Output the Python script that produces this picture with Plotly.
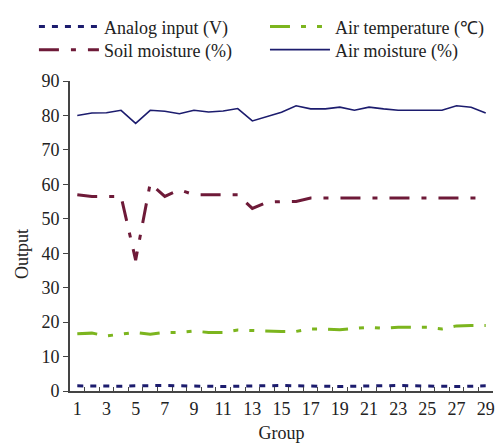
import plotly.graph_objects as go

groups = [str(g) for g in range(1, 30)]
analog_input = [1.5, 1.4, 1.3, 1.4, 1.5, 1.6, 1.6, 1.5, 1.4, 1.4, 1.3, 1.4, 1.5, 1.6, 1.6, 1.5, 1.4, 1.4, 1.3, 1.4, 1.5, 1.6, 1.6, 1.5, 1.4, 1.4, 1.3, 1.4, 1.5]
air_temperature = [16.6, 16.8, 16.0, 16.5, 17.0, 16.5, 17.0, 17.0, 17.4, 17.0, 17.0, 17.7, 17.5, 17.3, 17.3, 17.3, 18.0, 18.0, 17.8, 18.2, 18.5, 18.2, 18.5, 18.5, 18.5, 18.0, 18.9, 19.0, 19.0]
soil_moisture = [57.0, 56.5, 56.5, 56.5, 38.0, 60.3, 56.5, 58.4, 57.0, 57.0, 57.0, 57.0, 53.0, 54.8, 55.0, 55.0, 56.0, 56.0, 56.0, 56.0, 56.0, 56.0, 56.0, 56.0, 56.0, 56.0, 56.0, 56.0, 56.0]
air_moisture = [80.0, 80.7, 80.8, 81.5, 77.7, 81.5, 81.2, 80.5, 81.5, 81.0, 81.3, 82.0, 78.4, 79.7, 80.9, 82.8, 81.9, 81.9, 82.4, 81.5, 82.4, 81.9, 81.5, 81.5, 81.5, 81.5, 82.8, 82.4, 80.7]
x_tick_labels = [g if int(g) % 2 == 1 else "" for g in groups]
y_ticks = list(range(0, 100, 10))

FONT = "Liberation Serif"

fig = go.Figure()
fig.add_trace(go.Scatter(x=groups, y=analog_input, mode="lines", name="Analog input (V)",
                         legend="legend",
                         line=dict(color="#1c1c6e", width=3, dash="6px,7px")))
fig.add_trace(go.Scatter(x=groups, y=air_temperature, mode="lines", name="Air temperature (℃)",
                         legend="legend2",
                         line=dict(color="#7cb51e", width=3, dash="20px,11px,5px,11px,5px,11px")))
fig.add_trace(go.Scatter(x=groups, y=soil_moisture, mode="lines", name="Soil moisture (%)",
                         legend="legend3",
                         line=dict(color="#6e1a38", width=3, dash="20px,12px,5px,12px")))
fig.add_trace(go.Scatter(x=groups, y=air_moisture, mode="lines", name="Air moisture (%)",
                         legend="legend4",
                         line=dict(color="#1c1c6e", width=1.6)))

legend_common = dict(orientation="v", yref="container", xref="container",
                     xanchor="left", yanchor="top", itemwidth=60, tracegroupgap=0,
                     font=dict(family=FONT, size=18, color="#222"),
                     bgcolor="rgba(0,0,0,0)", traceorder="normal")

fig.update_layout(
    width=499, height=443,
    margin=dict(l=70, r=6, t=81, b=52, autoexpand=False),
    paper_bgcolor="white", plot_bgcolor="white",
    font=dict(family=FONT, size=18, color="#222"),
    showlegend=True,
    legend=dict(x=0.068, y=0.981, **legend_common),
    legend2=dict(x=0.531, y=0.981, **legend_common),
    legend3=dict(x=0.068, y=0.929, **legend_common),
    legend4=dict(x=0.531, y=0.929, **legend_common),
    xaxis=dict(type="category", range=[-0.5, 28.5], tickmode="array", tickvals=groups,
               ticktext=x_tick_labels, tickson="boundaries", tickangle=0,
               showgrid=False, zeroline=False,
               showline=True, linecolor="#444", linewidth=2, ticks="inside",
               ticklen=4, tickcolor="#444",
               tickfont=dict(family=FONT, size=18),
               title=dict(text="Group", font=dict(family=FONT, size=18), standoff=10)),
    yaxis=dict(range=[0, 90], tickmode="array", tickvals=y_ticks, showgrid=False,
               zeroline=False, showline=True, linecolor="#444", linewidth=2,
               ticks="outside", ticklen=5, tickcolor="#444",
               tickfont=dict(family=FONT, size=18)),
    annotations=[dict(text="Output", textangle=-90, showarrow=False,
                      xref="paper", yref="paper", x=-0.1135, y=0.442,
                      xanchor="center", yanchor="middle",
                      font=dict(family=FONT, size=18, color="#222"))],
)

fig.write_html("out.html", config={"displayModeBar": False},
               post_script="document.body.style.margin='0';document.body.style.overflow='hidden';")
